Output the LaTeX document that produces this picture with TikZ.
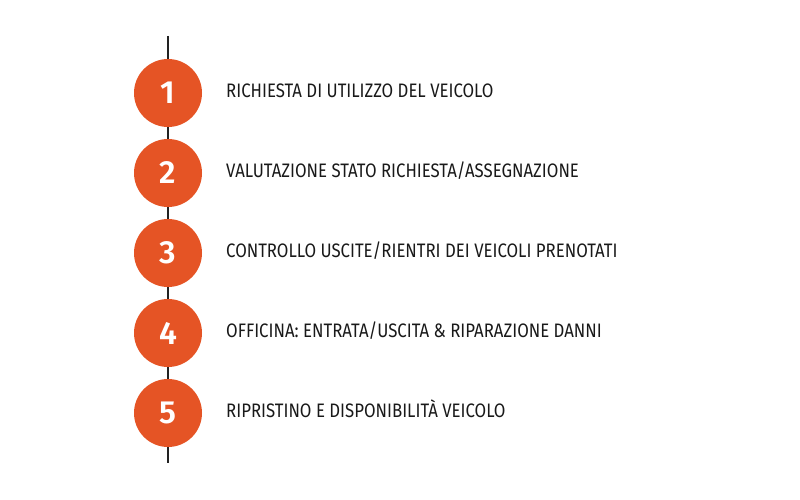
\documentclass[tikz,border=0pt]{standalone}
\usepackage{fontspec}
\setmainfont{Fira Sans}[FakeStretch=0.86]
\newfontfamily\numfont{Fira Sans SemiBold}
\definecolor{stepor}{HTML}{E55425}
\definecolor{lineg}{HTML}{222222}
\begin{document}
\begin{tikzpicture}[x=1pt,y=-1pt,
  stepdot/.style={circle,fill=stepor,minimum size=68pt,inner sep=0pt,text=white,font=\numfont\fontsize{32}{32}\selectfont},
  steplabel/.style={anchor=base west,inner sep=0pt,font=\fontsize{19.5}{21}\selectfont,text=black!90}]
\useasboundingbox (0,0) rectangle (800,500);
\coordinate (top) at (168,36);
\coordinate (bot) at (168,463);
\draw[lineg,line width=1.2pt] (top) -- (bot);
\foreach \i/\y/\t in {1/93/{RICHIESTA DI UTILIZZO DEL VEICOLO},
                      2/173/{VALUTAZIONE STATO RICHIESTA/ASSEGNAZIONE},
                      3/253/{CONTROLLO USCITE/RIENTRI DEI VEICOLI PRENOTATI},
                      4/333/{OFFICINA: ENTRATA/USCITA \& RIPARAZIONE DANNI},
                      5/413/{RIPRISTINO E DISPONIBILITÀ VEICOLO}}{
  \node[stepdot] (c\i) at (168,\y) {\i};
  \node[steplabel] (l\i) at (226,\y+4.7) {\t};
}
\end{tikzpicture}
\end{document}
